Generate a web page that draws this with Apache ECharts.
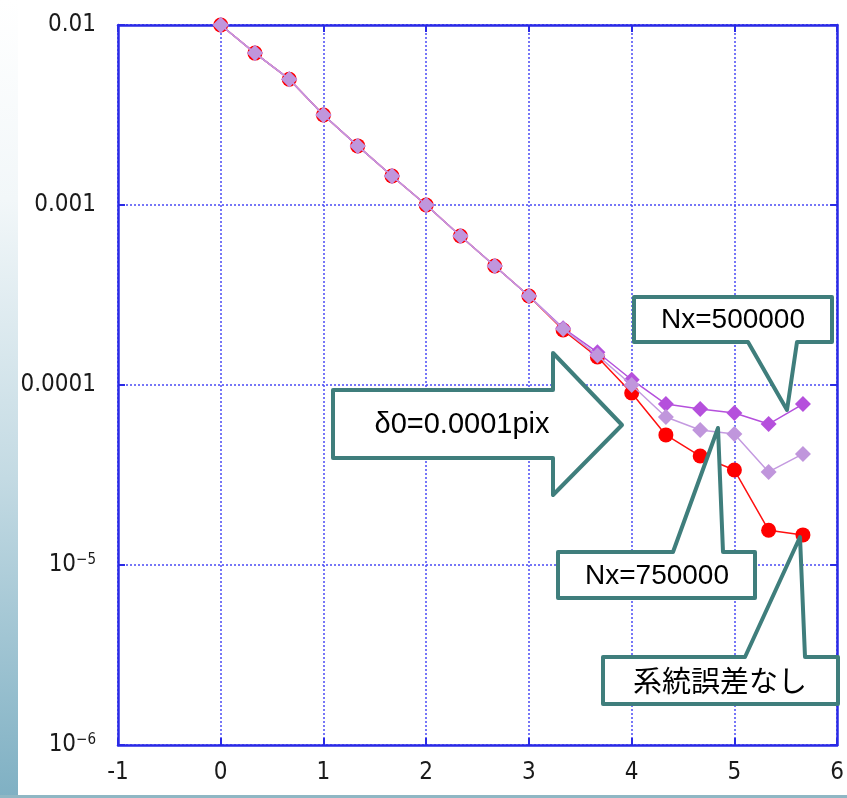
<!DOCTYPE html>
<html>
<head>
<meta charset="utf-8">
<script src="https://cdn.jsdelivr.net/npm/echarts@6/dist/echarts.min.js"></script>
<style>
html,body{margin:0;padding:0;background:#fff;}
#c{width:847px;height:798px;}
</style>
</head>
<body>
<div id="c"></div>
<script>
// ---- data ----
var xValues = [0, 0.333, 0.667, 1, 1.333, 1.667, 2, 2.333, 2.667, 3, 3.333, 3.667, 4, 4.333, 4.667, 5, 5.333, 5.667];
var noSystematic = [0.01, 0.00698, 0.005, 0.00316, 0.00213, 0.00145, 0.001, 0.000673, 0.000458, 0.000312, 0.000202, 0.000143, 0.0000903, 0.0000528, 0.0000403, 0.0000337, 0.0000156, 0.0000147];
var nx500000 = [0.01, 0.00698, 0.005, 0.00316, 0.00213, 0.00145, 0.001, 0.000673, 0.000458, 0.000312, 0.000207, 0.000152, 0.000107, 0.0000784, 0.0000736, 0.0000699, 0.0000607, 0.0000784];
var nx750000 = [0.01, 0.00698, 0.005, 0.00316, 0.00213, 0.00145, 0.001, 0.000673, 0.000458, 0.000312, 0.000205, 0.000146, 0.000100, 0.0000664, 0.0000562, 0.0000535, 0.0000329, 0.0000414];
var yTickValues = [1e-6, 1e-5, 1e-4, 1e-3, 1e-2];
var yTickLabels = ['{b|10}{s|−6}', '{b|10}{s|−5}', '{b|0.0001}', '{b|0.001}', '{b|0.01}'];
var xMin = -1, xMax = 6, xStep = 1;

function pairs(ys){ return xValues.map(function(x,i){ return [x, ys[i]]; }); }

var axisColor = '#2a2ae6';
var gridColor = '#4a4af5';
var teal = '#3f7e7c';
var labelFont = "'Liberation Sans Narrow','DejaVu Sans Condensed',sans-serif";

var chart = echarts.init(document.getElementById('c'), null, {renderer:'canvas'});

function yFmt(v){
  for (var i=0;i<yTickValues.length;i++){
    if (Math.abs(Math.log10(v) - Math.log10(yTickValues[i])) < 1e-6) return yTickLabels[i];
  }
  return '';
}

var option = {
  animation: false,
  backgroundColor: '#ffffff',
  grid: {left: 118, right: 9, top: 25, bottom: 53, containLabel: false},
  xAxis: [{
    type: 'value', min: xMin, max: xMax, interval: xStep, position: 'bottom',
    axisLine: {show: true, onZero: false, lineStyle: {color: axisColor, width: 2.5}},
    axisTick: {show: true, inside: true, length: 7, lineStyle: {color: axisColor, width: 2}},
    axisLabel: {margin: 16, color: '#1a1a1a', fontSize: 24, fontFamily: labelFont},
    splitLine: {show: true, lineStyle: {color: gridColor, width: 1.5, type: [2, 2]}}
  }, {
    type: 'value', min: xMin, max: xMax, interval: xStep, position: 'top',
    axisLine: {show: true, onZero: false, lineStyle: {color: axisColor, width: 2.5}},
    axisTick: {show: true, inside: true, length: 7, lineStyle: {color: axisColor, width: 2}},
    axisLabel: {show: false}, splitLine: {show: false}
  }],
  yAxis: [{
    type: 'log', logBase: 10, min: 1e-6, max: 1e-2, position: 'left',
    axisLine: {show: true, onZero: false, lineStyle: {color: axisColor, width: 2.5}},
    axisTick: {show: true, inside: true, length: 7, lineStyle: {color: axisColor, width: 2}},
    minorTick: {show: false},
    axisLabel: {
      margin: 22, color: '#1a1a1a', fontFamily: labelFont,
      formatter: yFmt,
      rich: {
        b: {fontSize: 24, fontFamily: labelFont, color: '#1a1a1a', verticalAlign: 'bottom'},
        s: {fontSize: 15, fontFamily: labelFont, color: '#1a1a1a', verticalAlign: 'top'}
      }
    },
    splitLine: {show: true, lineStyle: {color: gridColor, width: 1.5, type: [2, 2]}}
  }, {
    type: 'log', logBase: 10, min: 1e-6, max: 1e-2, position: 'right',
    axisLine: {show: true, onZero: false, lineStyle: {color: axisColor, width: 2.5}},
    axisTick: {show: true, inside: true, length: 7, lineStyle: {color: axisColor, width: 2}},
    axisLabel: {show: false}, splitLine: {show: false}
  }],
  series: [{
    name: '系統誤差なし', type: 'line', data: pairs(noSystematic),
    symbol: 'circle', symbolSize: 15, z: 3,
    lineStyle: {color: '#ff1010', width: 1.5},
    itemStyle: {color: '#ff0000'}
  }, {
    name: 'Nx=500000', type: 'line', data: pairs(nx500000),
    symbol: 'diamond', symbolSize: 16, z: 4,
    lineStyle: {color: '#b550dc', width: 1.5},
    itemStyle: {color: '#b550dc'}
  }, {
    name: 'Nx=750000', type: 'line', data: pairs(nx750000),
    symbol: 'diamond', symbolSize: 16, z: 5,
    lineStyle: {color: '#c49ae0', width: 1.5},
    itemStyle: {color: '#c096dc'}
  }],
  graphic: [
    {type: 'rect', left: 0, top: 0, z: 0, shape: {width: 18, height: 798},
     style: {fill: new echarts.graphic.LinearGradient(0, 0, 0, 1, [
       {offset: 0, color: '#ffffff'}, {offset: 0.25, color: '#f2f7f9'},
       {offset: 0.6, color: '#c3dae3'}, {offset: 1, color: '#7fb0c3'}])}},
    {type: 'rect', left: 0, top: 795, z: 0, shape: {width: 847, height: 3}, style: {fill: '#8fb7c4'}},
    // Nx=500000 callout
    {type: 'polygon', z: 100, shape: {points: [[634,297],[832,297],[832,342],[797,342],[787,410],[748,342],[634,342]]},
     style: {fill: '#ffffff', stroke: teal, lineWidth: 4, lineJoin: 'round'}},
    {type: 'text', z: 101, x: 733, y: 320, style: {text: 'Nx=500000', fill: '#000', font: "28px 'Liberation Sans', Arial, sans-serif", textAlign: 'center', textVerticalAlign: 'middle', align: 'center', verticalAlign: 'middle'}},
    // arrow
    {type: 'polygon', z: 100, shape: {points: [[333,390],[553,390],[553,353],[622,425],[553,495],[553,458],[333,458]]},
     style: {fill: '#ffffff', stroke: teal, lineWidth: 4, lineJoin: 'round'}},
    {type: 'text', z: 101, x: 462, y: 425, style: {text: 'δ0=0.0001pix', fill: '#000', font: "29px 'Liberation Sans', Arial, sans-serif", textAlign: 'center', textVerticalAlign: 'middle', align: 'center', verticalAlign: 'middle'}},
    // Nx=750000 callout
    {type: 'polygon', z: 100, shape: {points: [[558,552],[673,552],[718,428],[723,552],[755,552],[755,598],[558,598]]},
     style: {fill: '#ffffff', stroke: teal, lineWidth: 4, lineJoin: 'round'}},
    {type: 'text', z: 101, x: 657, y: 576, style: {text: 'Nx=750000', fill: '#000', font: "28px 'Liberation Sans', Arial, sans-serif", textAlign: 'center', textVerticalAlign: 'middle', align: 'center', verticalAlign: 'middle'}},
    // 系統誤差なし callout
    {type: 'polygon', z: 100, shape: {points: [[603,657],[745,657],[800,537],[805,657],[838,657],[838,704],[603,704]]},
     style: {fill: '#ffffff', stroke: teal, lineWidth: 4, lineJoin: 'round'}},
    {type: 'text', z: 101, x: 720, y: 681, style: {text: '系統誤差なし', fill: '#000', font: "29px 'Noto Sans CJK JP', sans-serif", textAlign: 'center', textVerticalAlign: 'middle', align: 'center', verticalAlign: 'middle'}}
  ]
};
chart.setOption(option);
</script>
</body>
</html>
